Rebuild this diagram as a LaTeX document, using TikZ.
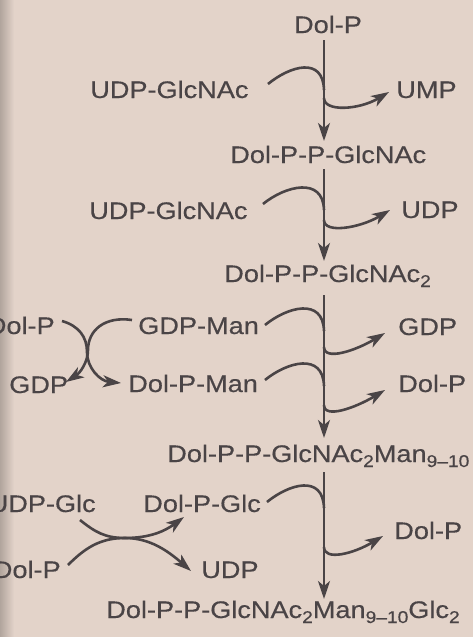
\documentclass[tikz,border=0pt]{standalone}
\usepackage{fontspec}
\setmainfont{Liberation Sans}[FakeStretch=1.13,FakeBold=0.4]
\usetikzlibrary{arrows.meta}
\definecolor{paper}{RGB}{227,211,201}
\definecolor{ink}{RGB}{74,68,70}
\newcommand{\lsub}[1]{\raisebox{-5pt}{\fontsize{17}{17}\selectfont #1}}

\begin{document}
\begin{tikzpicture}[x=1pt,y=-1pt,line width=2.6pt,ink]
    \tikzstyle{chem}=[inner sep=0pt,font=\fontsize{24}{28}\selectfont]
    \tikzstyle{flow}=[-{Stealth[length=18pt,width=12pt,inset=5pt]}]
    \fill[paper] (0,0) rectangle (473,637);
    \shade[left color=paper!78!black,right color=paper] (0,0) rectangle (14,637);
    \useasboundingbox (0,0) rectangle (473,637);

    % main chain
    \node[chem,anchor=base] (S-0) at (328,33) {Dol-P};
    \node[chem,anchor=base west] (S-1) at (229,163) {Dol-P-P-GlcNAc};
    \node[chem,anchor=base west] (S-2) at (223,282) {Dol-P-P-GlcNAc\lsub{2}};
    \node[chem,anchor=base west] (S-3) at (166,462) {Dol-P-P-GlcNAc\lsub{2}Man\lsub{9--10}};
    \node[chem,anchor=base west] (S-4) at (105,618) {Dol-P-P-GlcNAc\lsub{2}Man\lsub{9--10}Glc\lsub{2}};

    % donors and products
    \foreach \name/\anc/\x/\y/\txt in {U-1/base west/89/98/UDP-GlcNAc, P-1/base west/395/98/UMP,
            U-2/base west/88/219/UDP-GlcNAc, P-2/base west/400/218/UDP,
            U-3/base west/137/334/GDP-Man, P-3/base west/397/335/GDP,
            U-4/base west/127/392/Dol-P-Man, P-4/base west/397/392/Dol-P,
            U-5/base west/142/512/Dol-P-Glc, P-5/base west/393/539/Dol-P,
            L-1/base east/56/334/Dol-P, L-2/base west/8/393/GDP,
            L-3/base east/97/512/UDP-Glc, L-4/base east/62/578/Dol-P,
            L-5/base west/200/578/UDP}
        \node[chem,anchor=\anc] (\name) at (\x,\y) {\txt};

    % main steps
    \foreach \i/\top/\tip in {1/40/141, 2/169/261, 3/295/438, 4/472/599} {
        \coordinate (T-\i) at (324,\top);
        \coordinate (B-\i) at (324,\tip);
        \draw[flow] (T-\i) -- (B-\i);
    }

    % donors joining, products leaving
    \foreach \i/\sx/\sy/\by/\tx/\ty in {1/268/84/98/389/92, 2/263/204/220/390/210,
            3/265/325/347/385/333, 4/265/380/405/385/390, 5/267/502/547/383/536} {
        \coordinate (in-\i) at (\sx,\sy);
        \coordinate (j-\i) at (324,\sy+6);
        \coordinate (br-\i) at (324,\by);
        \coordinate (out-\i) at (\tx,\ty);
        \draw (in-\i) .. controls (\sx+22,\sy-18) and (323,\sy-28) .. (j-\i);
        \draw[flow] (br-\i) .. controls (324,\by+14) and (\tx-30,\ty+18) .. (out-\i);
    }

    % Dol-P-Man made from GDP-Man
    \coordinate (xa-s) at (62,321);  \coordinate (xa-e) at (121,383);
    \coordinate (xb-s) at (132,320); \coordinate (xb-e) at (66,382);
    \draw[flow] (xa-s) .. controls (79,326) and (87,337) .. (87,352)
                       .. controls (87,368) and (100,381) .. (xa-e);
    \draw[flow] (xb-s) .. controls (105,316) and (88,330) .. (88,350)
                       .. controls (88,362) and (80,373) .. (xb-e);

    % Dol-P-Glc made from UDP-Glc
    \coordinate (xc-s) at (80,520);  \coordinate (xc-e) at (184,517);
    \coordinate (xd-s) at (68,565);  \coordinate (xd-e) at (191,571);
    \draw[flow] (xc-s) .. controls (95,532) and (105,538) .. (125,538)
                       .. controls (150,538) and (165,531) .. (xc-e);
    \draw[flow] (xd-s) .. controls (85,548) and (100,538) .. (125,538)
                       .. controls (150,538) and (168,551) .. (xd-e);
\end{tikzpicture}
\end{document}
